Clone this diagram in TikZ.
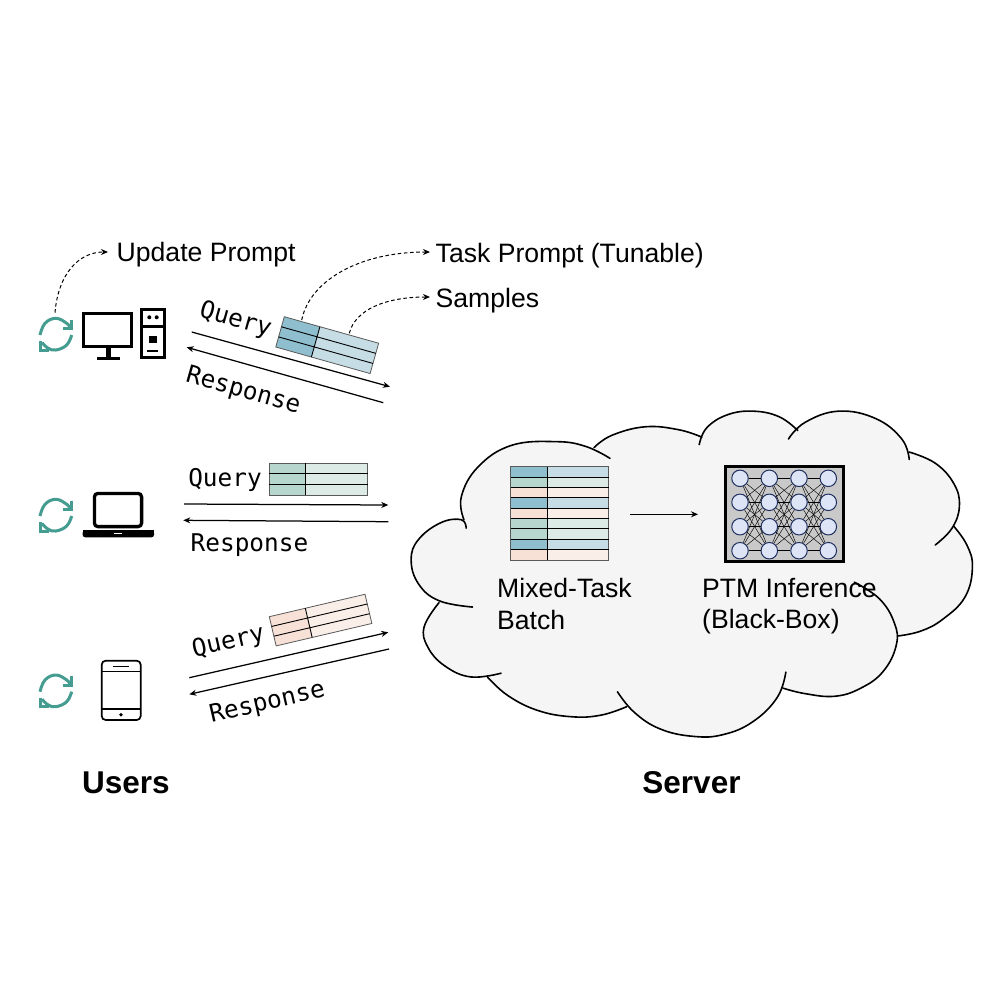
\documentclass[tikz,border=0pt]{standalone}
\usepackage{fontspec}
\setmainfont{Liberation Sans}
\newfontfamily\monofam{DejaVu Sans Mono}
\usetikzlibrary{arrows.meta}
\definecolor{cloudfill}{HTML}{F5F5F5}
\definecolor{teal}{HTML}{459C90}
\definecolor{bluL}{HTML}{8FBFCF}
\definecolor{bluR}{HTML}{C6DDE6}
\definecolor{grnL}{HTML}{B6D6CE}
\definecolor{grnR}{HTML}{DDEBE7}
\definecolor{pnkL}{HTML}{F7E1D7}
\definecolor{pnkR}{HTML}{FAEEE8}
\definecolor{edgegray}{HTML}{5A5A5A}
\definecolor{nnfill}{HTML}{DDE4F6}
\definecolor{nnline}{HTML}{1F2F5F}
\definecolor{nnback}{HTML}{C9C9C9}
\tikzset{
  arr/.style={line width=1.25pt,-{Stealth[length=7pt,width=6pt]}},
  dasharr/.style={line width=1pt,dash pattern=on 3.6pt off 2.6pt,-{Stealth[length=7pt,width=6pt]}},
  lbl/.style={font=\fontsize{26.6}{30}\selectfont,inner sep=0pt,anchor=west},
  mono/.style={font=\monofam\fontsize{24.4}{28}\selectfont,inner sep=0pt},
  head/.style={font=\bfseries\fontsize{31.5}{36}\selectfont,inner sep=0pt},
  neuron/.style={circle,draw=nnline,fill=nnfill,line width=1pt,minimum size=16.5pt,inner sep=0pt},
  syncline/.style={draw=teal,line width=3pt},
  syncicon/.pic={
    \draw[syncline] plot[smooth,tension=.7] coordinates {(-16,1) (-11,-10.7) (0,-15.7) (10.7,-10.7) (14,-6.5)};
    \draw[syncline,miter limit=4] (15.5,-14.5) -- (15.5,-5.7) -- (7,-5.7);
    \draw[syncline] plot[smooth,tension=.7] coordinates {(15.7,1) (10.7,11) (0,16) (-7.7,14.3) (-14,8.5)};
    \draw[syncline,miter limit=4] (-15.5,7) -- (-15.5,16) -- (-7,16);
  }
}
\newcommand\rowtable[8]{%
  \begin{scope}[shift={(#1,#2)},rotate=#3]
    \fill[#7] (0,0) rectangle (#6,#5);
    \fill[#8] (#6,0) rectangle (#4,#5);
    \draw[edgegray,line width=0.8pt] (0,0) rectangle (#4,#5);
    \draw[black,line width=0.9pt] (0,#5/3) -- (#4,#5/3) (0,2*#5/3) -- (#4,2*#5/3) (#6,0) -- (#6,#5);
  \end{scope}}
\newcommand\cloudlobes[1]{%
  #1{(178,345) (165,322) (110,330) (50,375) (30,430) (50,495) (105,540) (195,557)}%
  #1{(172,322) (165,260) (210,180) (300,122) (420,112) (500,125) (565,157)}%
  #1{(522,128) (570,95) (660,72) (750,80) (812,100)}%
  #1{(805,120) (825,75) (880,40) (950,30) (1020,45) (1070,82)}%
  #1{(1045,105) (1090,60) (1180,30) (1280,50) (1350,105) (1370,160)}%
  #1{(1370,140) (1440,170) (1490,225) (1505,285) (1485,345) (1440,390)}%
  #1{(1490,340) (1525,390) (1540,450) (1520,530) (1460,590) (1400,622) (1338,635)}%
  #1{(1222,490) (1290,535) (1330,600) (1335,660) (1300,730) (1240,775) (1170,797) (1090,790) (1030,775)}%
  #1{(1038,732) (1015,800) (950,865) (870,900) (790,905) (700,885) (630,840) (585,785)}%
  #1{(610,825) (540,848) (460,852) (370,835) (290,795) (235,745)}%
  #1{(272,735) (190,745) (120,715) (75,665) (65,610) (105,545)}}
\newcommand\lobefill[1]{\fill[cloudfill] plot[smooth,tension=.7] coordinates {#1};}
\newcommand\lobeline[1]{\draw[black,line width=1.6pt,line cap=round] plot[smooth,tension=.7] coordinates {#1};}
\begin{document}
\begin{tikzpicture}[x=1pt,y=-1pt]
\useasboundingbox (0,0) rectangle (1006,986);
\fill[white] (0,0) rectangle (1006,986);

% cloud
\begin{scope}[shift={(400,400)},x=0.3717pt,y=-0.3717pt]
  \fill[cloudfill] (172,322) -- (522,128) -- (812,100) -- (1060,85) -- (1370,145) -- (1490,340) -- (1338,635) -- (1030,775) -- (610,825) -- (235,745) -- (105,545) -- cycle;
  \cloudlobes{\lobefill}
  \cloudlobes{\lobeline}
\end{scope}

% users: desktop
\pic (syncA) at (56,334) {syncicon};
\draw[black,line width=3pt] (83.8,313.8) rectangle (131.8,346.8);
\draw[black,line width=5pt] (108,348) -- (108,357);
\draw[black,line width=3pt] (97.3,358) -- (119.5,358);
\draw[black,line width=3.2pt] (141.5,309.8) rectangle (164.2,357.5);
\draw[black,line width=3pt] (141.5,326) -- (164.2,326);
\fill[black] (149.3,317.3) circle (2) (156.7,317.3) circle (2);
\fill[black] (149.3,336) rectangle (156.7,343.3);
\fill[black] (147.3,349.8) rectangle (157.7,352.3);

% users: laptop
\pic (syncB) at (56,515) {syncicon};
\draw[black,line width=3.3pt,rounded corners=3.5pt] (94.4,493.4) rectangle (141.6,526.6);
\fill[black,rounded corners=2.5pt] (82.7,530.3) rectangle (154,537.3);
\fill[black] (82.7,530.3) rectangle (154,533);
\fill[white] (114.3,532.8) rectangle (122.3,534.3);

% users: phone
\pic (syncC) at (56,690.7) {syncicon};
\draw[black,line width=1.7pt,rounded corners=4pt] (101.7,660.7) rectangle (140.7,720);
\draw[black,line width=1.4pt] (101.7,671.7) -- (140.7,671.7) (101.7,709) -- (140.7,709);
\draw[black,line width=1.5pt] (113.3,666.5) -- (129,666.5);
\fill[black] (121,714.7) circle (1.9);

% tables
\rowtable{284.3}{316.7}{-15.7}{98}{31.5}{37}{bluL}{bluR}
\rowtable{269.3}{463.3}{0}{98.4}{31.7}{36.4}{grnL}{grnR}
\rowtable{269.3}{616.7}{13.2}{98.3}{30}{37}{pnkL}{pnkR}

% connectors on the user side
\coordinate (qAs) at (191.7,332);   \coordinate (qAe) at (390,386.7);
\coordinate (rAs) at (383.3,402.7); \coordinate (rAe) at (186.7,347.3);
\coordinate (qBs) at (184,504);     \coordinate (qBe) at (388.3,505);
\coordinate (rBs) at (388.3,521.7); \coordinate (rBe) at (183.3,520.3);
\coordinate (qCs) at (189.3,677.7); \coordinate (qCe) at (388.3,632.3);
\coordinate (rCs) at (389,649);     \coordinate (rCe) at (189.3,694.3);
\foreach \a/\b in {qAs/qAe,rAs/rAe,qBs/qBe,rBs/rBe,qCs/qCe,rCs/rCe}
  \draw[arr] (\a) -- (\b);

\node[mono,rotate=-15.7] (queryA) at (235.5,320) {Query};
\node[mono,rotate=-15.7] (respA) at (243.2,391) {Response};
\node[mono] (queryB) at (225,479.5) {Query};
\node[mono] (respB) at (249.5,545) {Response};
\node[mono,rotate=13] (queryC) at (228.5,642.5) {Query};
\node[mono,rotate=13] (respC) at (267.5,703.2) {Response};

% prompt labels
\node[lbl] (upd) at (116.5,255) {Update Prompt};
\node[lbl] (task) at (435.5,255.5) {Task Prompt (Tunable)};
\node[lbl] (samp) at (435.5,301) {Samples};
\coordinate (dA) at (55,312.7);
\coordinate (dB) at (301.7,320);
\coordinate (dC) at (349.3,333.3);
\draw[dasharr] (dA) .. controls (58,275) and (78,252) .. (108,252);
\draw[dasharr] (dB) .. controls (310,280) and (360,252) .. (430,252);
\draw[dasharr] (dC) .. controls (355,310) and (385,297) .. (430,297);

% batch
\foreach \i/\l/\r in {0/bluL/bluR,1/grnL/grnR,2/pnkL/pnkR,3/bluL/bluR,4/pnkL/pnkR,5/grnL/grnR,6/grnL/grnR,7/bluL/bluR,8/pnkL/pnkR}{
  \fill[\l] (510.7,466.7+\i*10.37) rectangle (547.3,466.7+\i*10.37+10.37);
  \fill[\r] (547.3,466.7+\i*10.37) rectangle (608.7,466.7+\i*10.37+10.37);
}
\draw[edgegray,line width=0.8pt] (510.7,466.7) rectangle (608.7,560);
\foreach \i in {1,...,8}
  \draw[black,line width=0.9pt] (510.7,466.7+\i*10.37) -- (608.7,466.7+\i*10.37);
\draw[black,line width=0.9pt] (547.3,466.7) -- (547.3,560);

% network
\node[draw=black,fill=nnback,line width=2.8pt,minimum width=118pt,minimum height=95pt,inner sep=0pt] (ptm) at (784.2,514.2) {};
\foreach \c/\x in {1/740,2/769.3,3/799,4/828.3}
  \foreach \r/\y in {1/478.3,2/502.3,3/526.7,4/550.7}
    \node[neuron] (n\c\r) at (\x,\y) {};
\foreach \c/\d in {1/2,2/3,3/4}
  \foreach \r in {1,2,3,4}
    \foreach \s in {1,2,3,4}
      \draw[black,line width=0.45pt] (n\c\r) -- (n\d\s);

% server labels
\node[lbl] (mix) at (497,588) {Mixed-Task};
\node[lbl] (bat) at (497,620) {Batch};
\node[lbl] (inf) at (702,587.5) {PTM Inference};
\node[lbl] (box) at (702,622) {(Black-Box)};
\coordinate (cS) at (630,514.3);
\coordinate (cE) at (698,514.3);
\draw[arr] (cS) -- (cE);

\node[head] (users) at (126,783) {Users};
\node[head] (server) at (691.5,783) {Server};
\end{tikzpicture}
\end{document}
